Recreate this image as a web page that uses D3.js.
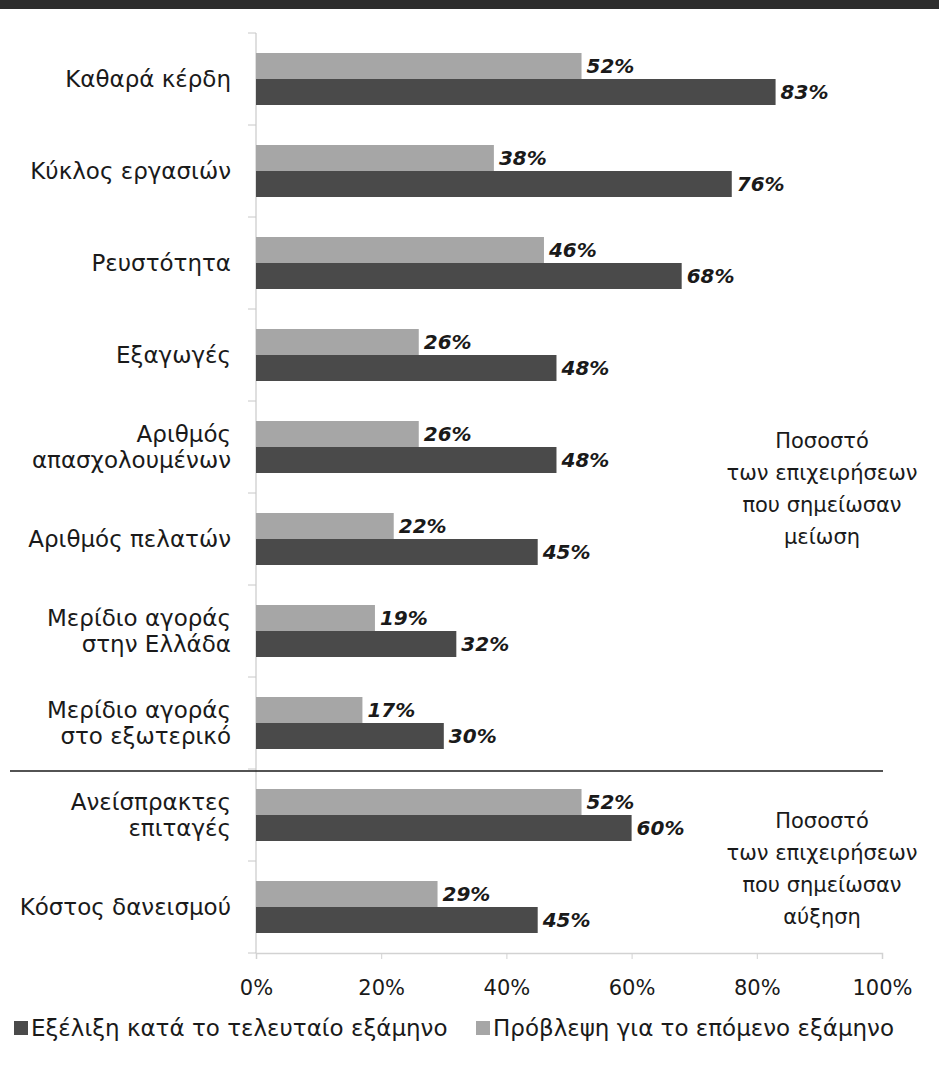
<!DOCTYPE html>
<html>
<head>
<meta charset="utf-8">
<script src="https://cdn.jsdelivr.net/npm/d3@7"></script>
<style>
  body { margin: 0; background: #fff; }
  svg text { font-family: "DejaVu Sans", "Noto Sans", sans-serif; fill: #1a1a1a; }
</style>
</head>
<body>
<div id="chart"></div>
<script>
// categories top to bottom, lines split for wrapping
var categories = [
  ["Καθαρά κέρδη"],
  ["Κύκλος εργασιών"],
  ["Ρευστότητα"],
  ["Εξαγωγές"],
  ["Αριθμός", "απασχολουμένων"],
  ["Αριθμός πελατών"],
  ["Μερίδιο αγοράς", "στην Ελλάδα"],
  ["Μερίδιο αγοράς", "στο εξωτερικό"],
  ["Ανείσπρακτες", "επιταγές"],
  ["Κόστος δανεισμού"]
];
var forecast = [52, 38, 46, 26, 26, 22, 19, 17, 52, 29];   // light bars
var lastHalf = [83, 76, 68, 48, 48, 45, 32, 30, 60, 45];   // dark bars
var xTicks = [0, 20, 40, 60, 80, 100];
var seriesNames = ["Εξέλιξη κατά το τελευταίο εξάμηνο", "Πρόβλεψη για το επόμενο εξάμηνο"];
var noteDown = ["Ποσοστό", "των επιχειρήσεων", "που σημείωσαν", "μείωση"];
var noteUp = ["Ποσοστό", "των επιχειρήσεων", "που σημείωσαν", "αύξηση"];

var W = 939, H = 1068;
var darkCol = "#4a4a4a", lightCol = "#a6a6a6";

var svg = d3.select("#chart").append("svg").attr("width", W).attr("height", H);

// dark band at the very top (title strip cut off)
svg.append("rect").attr("x", 0).attr("y", 0).attr("width", W).attr("height", 9).attr("fill", "#2d2d2d");

var x = d3.scaleLinear().domain([0, 100]).range([256, 882]);
var y = d3.scaleBand().domain(d3.range(categories.length)).range([33, 953]).paddingInner(0).paddingOuter(0);
var pad = 20, barH = (y.bandwidth() - 2 * pad) / 2;

// bottom axis
var xAxis = d3.axisBottom(x).tickValues(xTicks).tickSize(6).tickFormat(function(d) { return d + "%"; });
var gx = svg.append("g").attr("transform", "translate(0,953)").call(xAxis);
gx.select(".domain").attr("stroke", "#d2d2d2").attr("stroke-width", 1.5);
gx.selectAll(".tick line").attr("stroke", "#d2d2d2");
gx.selectAll(".tick text").attr("dy", null).attr("y", 42).style("font-size", "21px").attr("fill", "#1a1a1a");

// left axis line with category ticks
svg.append("line").attr("x1", 256).attr("x2", 256).attr("y1", 33).attr("y2", 953)
  .attr("stroke", "#d5d5d5").attr("stroke-width", 1.5);
svg.selectAll(".ctick").data(d3.range(categories.length + 1)).enter().append("line")
  .attr("x1", 248).attr("x2", 256)
  .attr("y1", function(i) { return 33 + i * y.step(); })
  .attr("y2", function(i) { return 33 + i * y.step(); })
  .attr("stroke", "#c8c8c8");

// bars
var rows = svg.selectAll(".row").data(categories).enter().append("g")
  .attr("transform", function(d, i) { return "translate(0," + y(i) + ")"; });

rows.append("rect").attr("x", x(0)).attr("y", pad).attr("height", barH)
  .attr("width", function(d, i) { return x(forecast[i]) - x(0); }).attr("fill", lightCol);
rows.append("rect").attr("x", x(0)).attr("y", pad + barH).attr("height", barH)
  .attr("width", function(d, i) { return x(lastHalf[i]) - x(0); }).attr("fill", darkCol);

rows.append("text").attr("x", function(d, i) { return x(forecast[i]) + 5; })
  .attr("y", pad + barH / 2).attr("dy", "0.35em")
  .style("font-size", "20px").style("font-weight", "bold").style("font-style", "italic")
  .attr("fill", "#111").text(function(d, i) { return forecast[i] + "%"; });
rows.append("text").attr("x", function(d, i) { return x(lastHalf[i]) + 5; })
  .attr("y", pad + barH * 1.5).attr("dy", "0.35em")
  .style("font-size", "20px").style("font-weight", "bold").style("font-style", "italic")
  .attr("fill", "#111").text(function(d, i) { return lastHalf[i] + "%"; });

// category labels
rows.each(function(d) {
  var t = d3.select(this).append("text").attr("text-anchor", "end").style("font-size", "23px");
  var mid = y.bandwidth() / 2, lh = 26;
  d.forEach(function(line, k) {
    t.append("tspan").attr("x", 231)
      .attr("y", mid + (k - (d.length - 1) / 2) * lh).attr("dy", "0.35em").text(line);
  });
});

// separator between the two groups
svg.append("line").attr("x1", 10).attr("x2", 883).attr("y1", 771).attr("y2", 771)
  .attr("stroke", "#1a1a1a").attr("stroke-width", 1.5);

// side notes
function note(lines, top) {
  var t = svg.append("text").attr("text-anchor", "middle").style("font-size", "21px");
  lines.forEach(function(line, k) {
    t.append("tspan").attr("x", 822).attr("y", top + k * 32).attr("dy", "0.35em").text(line);
  });
}
note(noteDown, 441);
note(noteUp, 821);

// legend
var leg = svg.append("g").attr("transform", "translate(0,1028)");
[[14, darkCol, seriesNames[0]], [476, lightCol, seriesNames[1]]].forEach(function(l) {
  leg.append("rect").attr("x", l[0]).attr("y", -7).attr("width", 14).attr("height", 14).attr("fill", l[1]);
  leg.append("text").attr("x", l[0] + 17).attr("y", 0).attr("dy", "0.35em").style("font-size", "23px").text(l[2]);
});
</script>
</body>
</html>
